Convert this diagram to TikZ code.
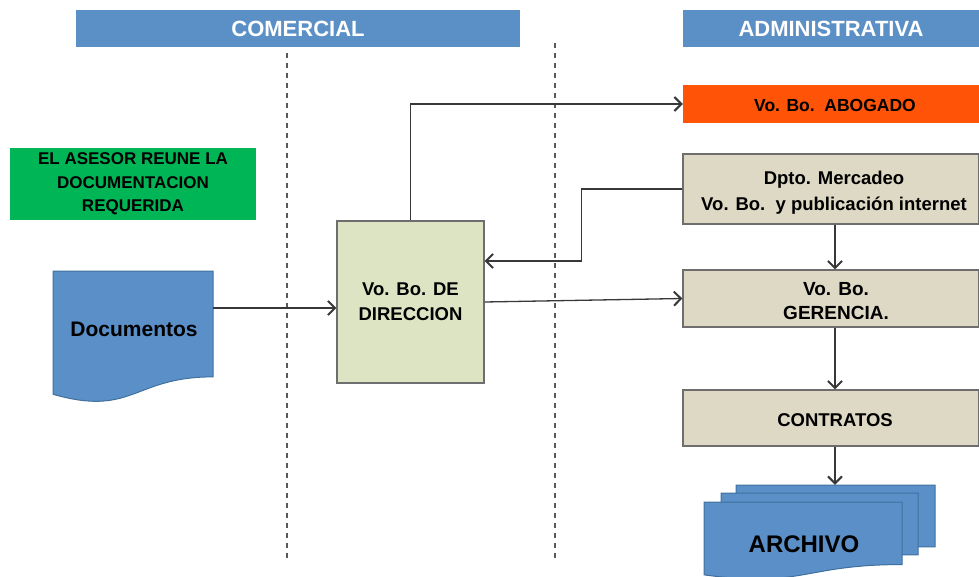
\documentclass[tikz,border=0pt]{standalone}
\usepackage{fontspec}
\setmainfont{Liberation Sans}
\usetikzlibrary{arrows.meta,calc}
\definecolor{hdrblue}{HTML}{5B90C7}
\definecolor{docblue}{HTML}{5A8FC8}
\definecolor{docedge}{HTML}{41709E}
\definecolor{grn}{HTML}{00B556}
\definecolor{orng}{HTML}{FF5408}
\definecolor{beige}{HTML}{DDD9C4}
\definecolor{olive}{HTML}{DDE4C4}
\definecolor{edge}{HTML}{6E6E6E}
\definecolor{conn}{HTML}{383838}
\newcommand\docshape[5]{%
  \draw[#1] (#2,#3) -- ({#2+#4},#3) -- ({#2+#4},{#3+0.802*#5})
    .. controls ({#2+0.5*#4},{#3+0.802*#5}) and ({#2+0.5*#4},{#3+1.1075*#5}) ..
    (#2,{#3+0.934*#5}) -- cycle;}
\tikzset{
  hdr/.style={fill=hdrblue, draw=none, inner sep=0pt, text=white,
    font=\fontsize{22}{26}\selectfont\bfseries},
  procbox/.style={fill=beige, draw=edge, line width=1.3pt, inner sep=0pt,
    minimum width=296pt},
  boxtext/.style={inner sep=0pt, align=center},
  arr/.style={draw=conn, line width=1.3pt,
    -{Straight Barb[length=7pt,width=14pt,line width=2pt]}},
  lane/.style={draw=gray!70!black, line width=1.4pt, dash pattern=on 5pt off 5pt},
  docfill/.style={fill=docblue, draw=docedge, line width=1pt}
}
\begin{document}
\begin{tikzpicture}[x=1pt,y=-1pt]
\useasboundingbox (0,0) rectangle (979,577);

% headers
\node[hdr, minimum width=444pt, minimum height=37pt] (com) at (298,28.5) {COMERCIAL};
\node[hdr, minimum width=296pt, minimum height=37pt] (adm) at (831,28.5) {ADMINISTRATIVA};

% swim lane separators
\coordinate (l1a) at (287,53);
\coordinate (l1b) at (287,560);
\coordinate (l2a) at (555,43);
\coordinate (l2b) at (555,560);
\draw[lane] (l1a) -- (l1b);
\draw[lane] (l2a) -- (l2b);

% green note
\node[fill=grn, inner sep=0pt, minimum width=246pt, minimum height=72pt, align=center,
  font=\fontsize{17}{23.5}\selectfont\bfseries] (ases) at (133,184)
  {EL ASESOR REUNE LA\\DOCUMENTACION\\REQUERIDA};

% Documentos
\docshape{docfill}{53}{271}{160}{132}
\node[inner sep=0pt, minimum width=160pt, minimum height=106pt] (docs) at (133,324) {};
\node[font=\fontsize{21}{25}\selectfont\bfseries, inner sep=0pt] (doct) at (134,329) {Documentos};

% direccion
\node[fill=olive, draw=edge, line width=1.3pt, inner sep=0pt, minimum width=147pt,
  minimum height=162pt, align=center, font=\fontsize{18.5}{25}\selectfont\bfseries]
  (dir) at (410.5,302) {Vo. Bo. DE\\DIRECCION};

% administrativa boxes
\node[fill=orng, inner sep=0pt, minimum width=296pt, minimum height=38pt] (abog) at (831,104) {};
\node[boxtext, font=\fontsize{17.5}{20}\selectfont\bfseries] (abogt) at (835,105) {Vo. Bo.\ \ ABOGADO};
\node[procbox, minimum height=70pt] (merc) at (831,189) {};
\node[boxtext, font=\fontsize{18.5}{26}\selectfont\bfseries] (merct) at (834,193)
  {Dpto. Mercadeo\\Vo. Bo.\ \ y publicación internet};
\node[procbox, minimum height=57pt] (ger) at (831,298.5) {};
\node[boxtext, font=\fontsize{19}{24}\selectfont\bfseries] (gert) at (836,301)
  {Vo. Bo.\\GERENCIA.};
\node[procbox, minimum height=56pt] (contr) at (831,418) {};
\node[boxtext, font=\fontsize{18.5}{22}\selectfont\bfseries] (contrt) at (835,420) {CONTRATOS};

% archivo (multi document)
\docshape{docfill}{736}{485}{199}{77}
\docshape{docfill}{721}{493}{197}{77}
\docshape{docfill}{704}{502}{198}{78}
\node[inner sep=0pt, minimum width=199pt, minimum height=62pt] (archback) at (835.5,516) {};
\node[font=\fontsize{24}{28}\selectfont\bfseries, inner sep=0pt] (arch) at (804,544) {ARCHIVO};

% connectors
\coordinate (d1) at ([yshift=16pt]docs.east);
\draw[arr] (d1) -- (d1 -| dir.west);
\draw[arr] (dir.north) |- (abog.west);
\coordinate (m1) at ([yshift=41pt]dir.east);
\draw[arr] (merc.west) -- ++(-101,0) |- (m1);
\draw[arr] (dir.east) -- (ger.west);
\draw[arr] ([xshift=4pt]merc.south) -- ([xshift=4pt]ger.north);
\draw[arr] ([xshift=4pt]ger.south) -- ([xshift=4pt]contr.north);
\draw[arr] ([xshift=4pt]contr.south) -- ([xshift=4pt]contr.south |- archback.north);
\end{tikzpicture}
\end{document}
